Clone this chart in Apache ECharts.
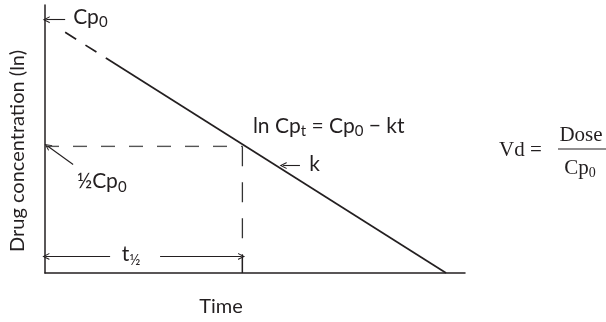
<!DOCTYPE html>
<html>
<head>
<meta charset="utf-8">
<style>
html,body{margin:0;padding:0;background:#fff;}
#main{width:606px;height:322px;}
</style>
<script src="https://cdn.jsdelivr.net/npm/echarts@6/dist/echarts.min.js"></script>
</head>
<body>
<div id="main"></div>
<script>
// 数据（示意图，坐标 0-100）
var xRange=[0,100];
var yRange=[0,100];
var cp0=94.5;
var halfCp0=47.25;
var tHalf=47;
var solidLine=[[14.5,80.2],[95.5,0]];
var dashLine=[[4.8,89.8],[14.5,80.2]];
var halfLine=[[0,halfCp0],[tHalf,halfCp0]];
var halfDrop=[[tHalf,halfCp0],[tHalf,0]];
var halfTick=[[tHalf,6.6],[tHalf,0]];
// 箭头 [起点, 终点]
var arrows=[
	[[4.8,cp0],[0.3,cp0]],
	[[6.7,40.5],[0.6,47.4]],
	[[15.5,6.2],[0.2,6.2]],
	[[27.4,6.2],[46.8,6.2]],
	[[60.7,40.1],[56.7,40.1]]
];
// 标注 [x, y, 文字]
var labels=[
	[6.7,95.6,'{m|Cp}{s|0}'],
	[7.6,34.2,'{m|½Cp}{s|0}'],
	[18.3,7.0,'{m|t}{s|½}'],
	[49.5,54.8,'{m|ln Cp}{s|t}{m| = Cp}{s|0}{m| − kt}'],
	[62.9,40.6,'{m|k}']
];

var ink='#231f20';
var sans='Lato';
var arrowHead='path://M5,0 L10,10 L8.4,10 L5,3.2 L1.6,10 L0,10 Z';

var richStyle={
	m:{fontFamily:sans,fontSize:21,color:ink,lineHeight:26},
	s:{fontFamily:sans,fontSize:15,color:ink,verticalAlign:'bottom',lineHeight:26}
};

var chart=echarts.init(document.getElementById('main'));
var option={
	animation:false,
	backgroundColor:'#fff',
	grid:{left:45,right:141,top:5,bottom:43},
	xAxis:{
		type:'value',min:xRange[0],max:xRange[1],
		name:'Time',nameLocation:'middle',nameGap:24,
		nameTextStyle:{fontFamily:sans,fontSize:20,color:ink,padding:[0,68,0,0]},
		axisLine:{show:true,onZero:false,lineStyle:{color:ink,width:1.5}},
		axisTick:{show:false},axisLabel:{show:false},splitLine:{show:false}
	},
	yAxis:{
		type:'value',min:yRange[0],max:yRange[1],
		name:'Drug concentration (ln)',nameLocation:'middle',nameGap:17,
		nameTextStyle:{fontFamily:sans,fontSize:20,color:ink,padding:[0,24,0,0]},
		axisLine:{show:true,onZero:false,lineStyle:{color:ink,width:1.5}},
		axisTick:{show:false},axisLabel:{show:false},splitLine:{show:false}
	},
	series:[
		{
			type:'line',data:solidLine,symbol:'none',
			lineStyle:{color:ink,width:1.7},
			markLine:{
				silent:true,symbol:['none',arrowHead],symbolSize:[7,7],
				label:{show:false},
				lineStyle:{color:ink,width:1.1,type:'solid'},
				data:arrows.map(function(a){return [{coord:a[0]},{coord:a[1]}];})
			},
			markPoint:{
				silent:true,symbol:'circle',symbolSize:0,
				data:labels.map(function(l){
					return {coord:[l[0],l[1]],label:{show:true,position:'right',distance:0,formatter:l[2],rich:richStyle}};
				})
			}
		},
		{type:'line',data:dashLine,symbol:'none',lineStyle:{color:ink,width:1.7,type:[13,11]}},
		{type:'line',data:halfLine,symbol:'none',lineStyle:{color:'#555',width:1.4,type:[14,14]}},
		{type:'line',data:halfDrop,symbol:'none',lineStyle:{color:'#333',width:1.3,type:[20,16]}},
		{type:'line',data:halfTick,symbol:'none',lineStyle:{color:ink,width:1.3}}
	],
	graphic:[
		{type:'text',x:499,y:150,style:{text:'Vd =',font:'21px "Liberation Serif"',fill:ink,textVerticalAlign:'middle'}},
		{type:'text',x:581,y:135,style:{text:'Dose',font:'21px "Liberation Serif"',fill:ink,textAlign:'center',textVerticalAlign:'middle'}},
		{type:'line',shape:{x1:558,y1:149,x2:606,y2:149},style:{stroke:ink,lineWidth:1.2}},
		{type:'text',x:580,y:168,style:{
			text:'{m|Cp}{s|0}',textAlign:'center',textVerticalAlign:'middle',
			rich:{
				m:{fontFamily:'Liberation Serif',fontSize:21,fill:ink,lineHeight:24},
				s:{fontFamily:'Liberation Serif',fontSize:14,fill:ink,verticalAlign:'bottom',lineHeight:24}
			}
		}}
	]
};
chart.setOption(option);
</script>
</body>
</html>
